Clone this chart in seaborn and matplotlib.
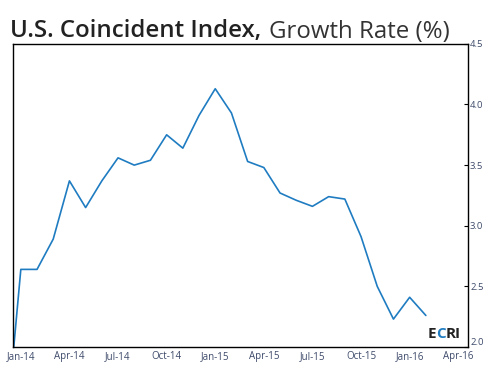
import numpy as np
import pandas as pd
import matplotlib
matplotlib.use("Agg")
import matplotlib.pyplot as plt
import seaborn as sns

# Monthly growth rate (%), Dec-13 .. Feb-16 (Dec-13 sits left of the axis, clipped)
months = pd.date_range("2013-12-01", "2016-02-01", freq="MS")
growth = [1.17, 2.64, 2.64, 2.89, 3.37, 3.15, 3.37, 3.56, 3.50, 3.54,
          3.75, 3.64, 3.91, 4.13, 3.93, 3.53, 3.48, 3.27, 3.21, 3.16,
          3.24, 3.22, 2.91, 2.50, 2.23, 2.41, 2.26]
tick_labels = ["Jan-14", "Apr-14", "Jul-14", "Oct-14", "Jan-15",
               "Apr-15", "Jul-15", "Oct-15", "Jan-16", "Apr-16"]
y_ticks = [2.0, 2.5, 3.0, 3.5, 4.0, 4.5]

# month index relative to Jan-14
df = pd.DataFrame({
    "m": [(d.year - 2014) * 12 + d.month - 1 for d in months],
    "growth": growth,
})

sns.set_theme(style="white")
plt.rcParams["font.family"] = ["Open Sans", "DejaVu Sans"]

fig = plt.figure(figsize=(4.95, 3.75), dpi=100)
ax = fig.add_axes([0.0257, 0.0747, 0.9197, 0.8083])

sns.lineplot(data=df, x="m", y="growth", ax=ax, color="#1f7cc1", linewidth=1.2)

ax.set_xlim(-0.5, 27.6)
ax.set_ylim(2.0, 4.5)

label_col = "#3d4a6a"
ax.set_xticks(range(0, 28, 3))
ax.set_xticklabels(tick_labels)
ax.set_xticks(np.arange(0.5, 27.6, 1), minor=True)
ax.tick_params(axis="x", which="major", length=0, labelsize=7, colors=label_col, pad=3)
ax.tick_params(axis="x", which="minor", direction="in", length=3, width=0.8, color="black")

ax.yaxis.tick_right()
ax.set_yticks(y_ticks)
ax.set_yticklabels([f"{v:.1f}" for v in y_ticks])
ax.tick_params(axis="y", direction="in", length=3, width=0.8, color="black",
               labelsize=6.8, labelcolor=label_col, pad=1.5)
ax.get_yticklabels()[0].set_verticalalignment("bottom")

for s in ax.spines.values():
    s.set_visible(True)
    s.set_color("black")
    s.set_linewidth(1.0)

ax.set_xlabel("")
ax.set_ylabel("")

# title, bold part + regular part
t1 = fig.text(0.02, 0.9, "U.S. Coincident Index,", fontsize=17.3, fontweight="semibold",
              color="#222222")
fig.canvas.draw()
bb = t1.get_window_extent()
x2 = bb.x1 / fig.bbox.width + 0.016
fig.text(x2, 0.9, "Growth Rate (%)", fontsize=17.3, color="#333333")

# ECRI tag
fs = 11
e1 = ax.text(0.985, 0.02, "RI", transform=ax.transAxes, ha="right", va="bottom",
             fontsize=fs, fontweight="bold", color="#222222")
fig.canvas.draw()
rb = e1.get_window_extent().transformed(ax.transAxes.inverted())
e2 = ax.text(rb.x0, 0.02, "C", transform=ax.transAxes, ha="right", va="bottom",
             fontsize=fs, fontweight="bold", color="#1f7cc1")
fig.canvas.draw()
cb = e2.get_window_extent().transformed(ax.transAxes.inverted())
ax.text(cb.x0, 0.02, "E", transform=ax.transAxes, ha="right", va="bottom",
        fontsize=fs, fontweight="bold", color="#222222")

fig.savefig("out.png", dpi=100)
